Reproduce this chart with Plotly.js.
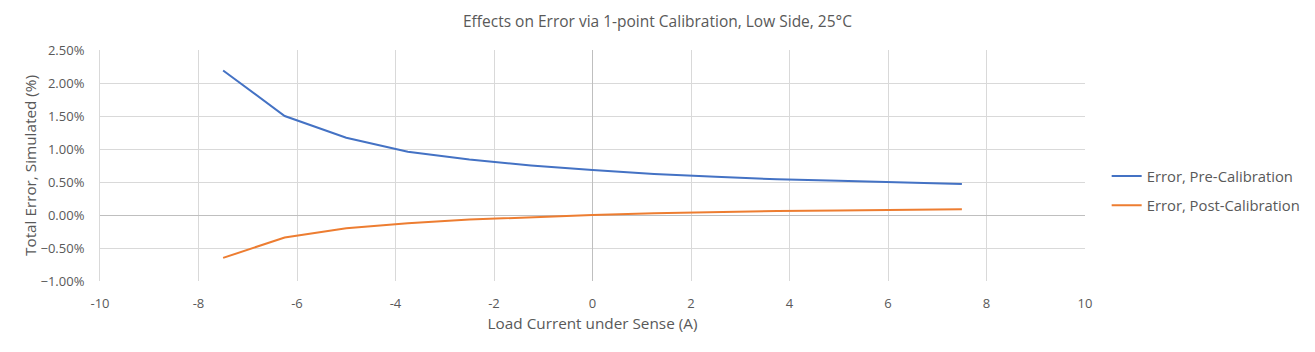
<!DOCTYPE html>
<html>
<head>
<meta charset="utf-8">
<script src="https://cdn.plot.ly/plotly-3.0.1.min.js"></script>
<style>html,body{margin:0;padding:0;background:#fff;}#chart{width:1315px;height:352px;}</style>
</head>
<body>
<div id="chart"></div>
<script>
const loadCurrent = [-7.5, -6.25, -5, -3.75, -2.5, -1.25, 0, 1.25, 2.5, 3.75, 5, 6.25, 7.5];
const errorPre = [0.0219, 0.0150, 0.0117, 0.0096, 0.0084, 0.0075, 0.0068, 0.0062, 0.0058, 0.0054, 0.0052, 0.0049, 0.0047];
const errorPost = [-0.0065, -0.0034, -0.0020, -0.00125, -0.0007, -0.0003, 0.0, 0.00025, 0.00045, 0.0006, 0.0007, 0.0008, 0.00086];
const seriesNames = ['Error, Pre-Calibration', 'Error, Post-Calibration'];
const xTicks = [-10, -8, -6, -4, -2, 0, 2, 4, 6, 8, 10];
const yTicks = [-0.01, -0.005, 0, 0.005, 0.01, 0.015, 0.02, 0.025];

const font = "'Open Sans', 'Noto Sans', sans-serif";
const grey = '#595959';

const traces = [
  {x: loadCurrent, y: errorPre, name: seriesNames[0], legendgroup: 'a', mode: 'lines', line: {color: '#4472C4', width: 2}},
  {x: loadCurrent, y: errorPost, name: seriesNames[1], legendgroup: 'b', mode: 'lines', line: {color: '#ED7D31', width: 2}}
];

const layout = {
  width: 1315, height: 352,
  margin: {l: 100, r: 230, t: 50, b: 71, autoexpand: false},
  paper_bgcolor: '#fff', plot_bgcolor: '#fff',
  font: {family: font, color: grey, size: 12},
  title: {text: 'Effects on Error via 1-point Calibration, Low Side, 25°C', font: {size: 15.5, color: grey}, x: 0.5, xanchor: 'center', y: 0.94, yanchor: 'middle'},
  xaxis: {
    range: [-10, 10], tickvals: xTicks, ticktext: xTicks.map(String),
    showgrid: true, gridcolor: '#d9d9d9', gridwidth: 1,
    zeroline: true, zerolinecolor: '#bfbfbf', zerolinewidth: 1,
    showline: false, ticks: 'outside', ticklen: 10, tickcolor: 'rgba(0,0,0,0)',
    tickfont: {size: 13, color: grey},
    title: {text: 'Load Current under Sense (A)', font: {size: 15.3, color: grey}, standoff: 7}
  },
  yaxis: {
    range: [-0.01, 0.025], tickvals: yTicks, tickformat: '.2%',
    showgrid: true, gridcolor: '#d9d9d9', gridwidth: 1,
    zeroline: true, zerolinecolor: '#bfbfbf', zerolinewidth: 1,
    showline: true, linecolor: '#d9d9d9', linewidth: 1,
    ticks: 'outside', ticklen: 12, tickcolor: 'rgba(0,0,0,0)',
    tickfont: {size: 13, color: grey},
    title: {text: 'Total Error, Simulated (%)', font: {size: 15.3, color: grey}, standoff: 0}
  },
  showlegend: true,
  legend: {x: 1.022, xanchor: 'left', y: 0.39, yanchor: 'middle', font: {size: 14.8, color: grey}, traceorder: 'grouped', tracegroupgap: 7, itemwidth: 30, bgcolor: 'rgba(0,0,0,0)'}
};

Plotly.newPlot('chart', traces, layout, {displayModeBar: false, staticPlot: true});
</script>
</body>
</html>
